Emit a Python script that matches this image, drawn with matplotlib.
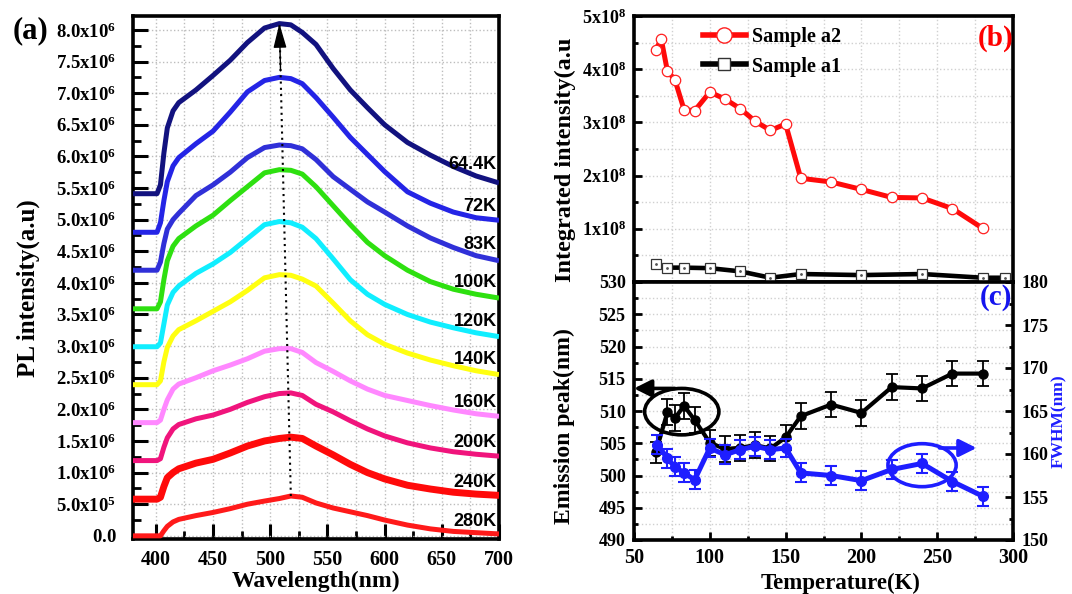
import numpy as np
import matplotlib
matplotlib.use('Agg')
import matplotlib.pyplot as plt
from matplotlib.patches import Ellipse
from matplotlib.lines import Line2D
from matplotlib.ticker import MultipleLocator, FixedLocator, FixedFormatter

plt.rcParams['font.family'] = 'Liberation Serif'
plt.rcParams['font.weight'] = 'bold'
plt.rcParams['mathtext.fontset'] = 'custom'
plt.rcParams['mathtext.rm'] = 'Liberation Serif:bold'
plt.rcParams['mathtext.bf'] = 'Liberation Serif:bold'
plt.rcParams['mathtext.it'] = 'Liberation Serif:bold:italic'
plt.rcParams['xtick.direction'] = 'in'
plt.rcParams['ytick.direction'] = 'in'

# ---- (a) PL spectra, intensity in units of 1e6 ----
wavelength = [380, 401, 404, 407, 410, 415, 420, 435, 450, 465, 480, 495, 508, 518, 528,
              540, 555, 570, 585, 600, 620, 640, 660, 680, 700]
spec_temps = ['64.4K', '72K', '83K', '100K', '120K', '140K', '160K', '200K', '240K', '280K']
pl_64K = [5.41, 5.41, 5.55, 6.05, 6.45, 6.72, 6.85, 7.05, 7.28, 7.52, 7.80, 8.03, 8.10, 8.08, 7.96,
          7.77, 7.39, 7.05, 6.77, 6.50, 6.22, 6.02, 5.84, 5.69, 5.58]
pl_72K = [4.80, 4.80, 4.95, 5.30, 5.60, 5.85, 5.98, 6.20, 6.40, 6.70, 7.02, 7.20, 7.25, 7.23, 7.15,
          6.93, 6.62, 6.30, 6.03, 5.76, 5.44, 5.26, 5.12, 5.03, 4.99]
pl_83K = [4.20, 4.20, 4.33, 4.62, 4.85, 5.00, 5.10, 5.38, 5.55, 5.75, 5.98, 6.14, 6.18, 6.17, 6.12,
          5.95, 5.68, 5.48, 5.28, 5.12, 4.90, 4.71, 4.56, 4.43, 4.35]
pl_100K = [3.59, 3.59, 3.70, 4.05, 4.35, 4.58, 4.70, 4.90, 5.07, 5.30, 5.52, 5.74, 5.79, 5.78, 5.72,
           5.52, 5.22, 4.92, 4.64, 4.43, 4.20, 4.02, 3.90, 3.82, 3.76]
pl_120K = [2.99, 2.99, 3.05, 3.35, 3.65, 3.85, 3.95, 4.15, 4.30, 4.48, 4.70, 4.92, 4.97, 4.95, 4.88,
           4.70, 4.38, 4.05, 3.82, 3.66, 3.50, 3.38, 3.29, 3.21, 3.15]
pl_140K = [2.39, 2.39, 2.45, 2.75, 2.98, 3.16, 3.26, 3.40, 3.55, 3.70, 3.88, 4.08, 4.13, 4.12, 4.06,
           3.95, 3.68, 3.40, 3.18, 3.03, 2.89, 2.78, 2.69, 2.61, 2.55]
pl_160K = [1.79, 1.79, 1.83, 2.00, 2.15, 2.32, 2.40, 2.50, 2.61, 2.70, 2.80, 2.92, 2.96, 2.96, 2.90,
           2.74, 2.60, 2.45, 2.32, 2.22, 2.14, 2.06, 1.99, 1.93, 1.89]
pl_200K = [1.19, 1.19, 1.22, 1.40, 1.55, 1.69, 1.76, 1.85, 1.91, 2.00, 2.11, 2.20, 2.25, 2.26, 2.22,
           2.08, 1.96, 1.82, 1.69, 1.58, 1.47, 1.39, 1.33, 1.29, 1.26]
pl_240K = [0.58, 0.58, 0.61, 0.78, 0.92, 1.00, 1.06, 1.15, 1.21, 1.31, 1.42, 1.50, 1.54, 1.56, 1.54,
           1.42, 1.28, 1.13, 1.00, 0.90, 0.80, 0.74, 0.69, 0.66, 0.64]
pl_280K = [0.00, 0.00, 0.00, 0.08, 0.15, 0.22, 0.26, 0.32, 0.37, 0.43, 0.50, 0.55, 0.59, 0.63, 0.61,
           0.52, 0.44, 0.38, 0.32, 0.25, 0.17, 0.11, 0.07, 0.05, 0.03]
spectra = [pl_64K, pl_72K, pl_83K, pl_100K, pl_120K, pl_140K, pl_160K, pl_200K, pl_240K, pl_280K]
spec_colors = ['#12127f', '#2424e6', '#3030d8', '#2ee010', '#10eeff', '#ffff10',
               '#ff88ff', '#f0147c', '#ff0a0a', '#ff1a1a']
spec_lw = [3.6, 3.6, 3.6, 3.6, 3.6, 3.6, 3.6, 3.6, 5.0, 3.6]

# ---- (b) integrated intensity, units of 1e8 ----
temp_a2 = [64.4, 68, 72, 77, 83, 90, 100, 110, 120, 130, 140, 150, 160, 180, 200, 220, 240, 260, 280]
int_a2 = [4.37, 4.56, 3.97, 3.80, 3.24, 3.22, 3.57, 3.44, 3.26, 3.02, 2.85, 2.97, 1.95, 1.88,
          1.74, 1.59, 1.58, 1.38, 1.01]
temp_a1 = [64.4, 72, 83, 100, 120, 140, 160, 200, 240, 280, 295]
int_a1 = [0.33, 0.27, 0.27, 0.26, 0.20, 0.08, 0.15, 0.13, 0.15, 0.08, 0.08]

# ---- (c) emission peak and FWHM ----
temp_peak = [64.4, 72, 77, 83, 90, 100, 110, 120, 130, 140, 150, 160, 180, 200, 220, 240, 260, 280]
peak_nm = [503.6, 509.8, 508.9, 510.8, 508.6, 505.1, 504.1, 504.3, 504.7, 504.2, 505.9, 509.2,
           511.0, 509.7, 513.7, 513.5, 515.8, 515.8]
peak_err = [1.6, 2.0, 2.0, 2.0, 2.0, 2.0, 2.0, 2.0, 2.0, 2.0, 2.0, 2.0, 2.0, 2.0, 2.0, 2.0, 2.0, 2.0]
temp_fwhm = [65.5, 72, 77, 83, 90, 100, 110, 120, 130, 140, 150, 160, 180, 200, 220, 240, 260, 280]
fwhm_nm = [161.1, 159.5, 158.5, 157.8, 157.0, 160.7, 159.9, 160.5, 160.9, 160.5, 160.7, 157.8,
           157.5, 156.9, 158.2, 158.9, 156.8, 155.1]
fwhm_err = [1.1] * 18

W, H = 1072, 594
fig = plt.figure(figsize=(W / 100, H / 100), dpi=100)

# ================= panel (a) =================
ax = fig.add_axes([133 / W, 55 / H, 366 / W, 523 / H])
for vals, col, lw in zip(spectra, spec_colors, spec_lw):
    ax.plot(wavelength, np.array(vals) * 1e6, color=col, lw=lw, solid_joinstyle='round',
            solid_capstyle='butt', zorder=3)

# dotted peak-shift guide from the 280K peak up to the 64.4K peak
top = spectra[0]
bot = spectra[-1]
x_top, y_top = wavelength[int(np.argmax(top))], max(top) * 1e6
x_bot, y_bot = wavelength[int(np.argmax(bot))], max(bot) * 1e6
ax.plot([x_bot, x_top], [y_bot, y_top], color='k', lw=1.5, ls=(0, (1, 2)), zorder=5)
ax.annotate('', xy=(x_top, y_top), xytext=(x_top + 0.1 * (x_bot - x_top), y_top + 0.1 * (y_bot - y_top)),
            arrowprops=dict(arrowstyle='-|>,head_length=1.0,head_width=0.27', lw=1,
                            fc='k', ec='k', shrinkA=0, shrinkB=0, mutation_scale=15), zorder=5)

# temperature labels near right end
for vals, lab in zip(spectra, spec_temps):
    ax.text(698, (vals[-2] + 0.18) * 1e6, lab, ha='right', va='center', fontsize=13,
            family='Liberation Sans', weight='bold', zorder=6)

ax.set_xlim(380, 700)
ax.set_ylim(-0.05e6, 8.22e6)
ax.xaxis.set_major_locator(MultipleLocator(50))
ax.xaxis.set_minor_locator(MultipleLocator(25))
yt = np.arange(0, 8.01e6, 0.5e6)
ylabels = []
for v in yt:
    if v == 0:
        ylabels.append(r'$\mathrm{0.0}$')
    elif v < 1e6:
        ylabels.append(r'$\mathrm{%.1fx10^{5}}$' % (v / 1e5))
    else:
        ylabels.append(r'$\mathrm{%.1fx10^{6}}$' % (v / 1e6))
ax.yaxis.set_major_locator(FixedLocator(yt))
ax.yaxis.set_major_formatter(FixedFormatter(ylabels))
ax.yaxis.set_minor_locator(MultipleLocator(0.25e6))
ax.tick_params(which='major', length=11, width=2.2, top=False, right=False)
ax.tick_params(which='minor', length=5.5, width=2.0, top=False, right=False)
ax.tick_params(axis='y', labelsize=13.5, pad=12)
ax.tick_params(axis='x', labelsize=14.5, pad=8)
ax.grid(True, which='both', axis='x', color='#bdbdbd', ls=':', lw=1)
ax.grid(True, which='major', axis='y', color='#bdbdbd', ls=':', lw=1)
for s in ax.spines.values():
    s.set_linewidth(2.6)
ax.set_xlabel('Wavelength(nm)', fontsize=17, weight='bold')
ax.set_ylabel('PL intensity(a.u)', fontsize=18, weight='bold')
ax.xaxis.set_label_coords(0.5, -0.06)
ax.yaxis.set_label_coords(-0.255, 0.48)
fig.text(30 / W, 1 - 31 / H, '(a)', ha='center', va='center', fontsize=22, weight='bold')

# ================= panel (b) =================
axb = fig.add_axes([634 / W, 312 / H, 379 / W, 266 / H])
axb.plot(temp_a2, np.array(int_a2) * 1e8, color='#ff0a0a', lw=3.6, marker='o', ms=7.5,
         mfc='white', mec='#ff2020', mew=0.9, zorder=3)
axb.plot(temp_a1, np.array(int_a1) * 1e8, color='k', lw=3.3, marker='s', ms=6.5,
         mfc='white', mec='#333333', mew=0.9, zorder=3, clip_on=False)
axb.plot(temp_a1, np.array(int_a1) * 1e8, ls='none', marker='o', ms=1, color='#555555', zorder=4)
axb.set_xlim(50, 300)
axb.set_ylim(0, 5.0e8)
axb.xaxis.set_major_locator(MultipleLocator(50))
axb.xaxis.set_minor_locator(MultipleLocator(25))
ybt = [1e8, 2e8, 3e8, 4e8, 5e8]
axb.yaxis.set_major_locator(FixedLocator(ybt))
axb.yaxis.set_major_formatter(FixedFormatter([r'$\mathrm{%dx10^{8}}$' % (v / 1e8) for v in ybt]))
axb.yaxis.set_minor_locator(MultipleLocator(0.5e8))
axb.tick_params(which='major', length=6, width=2, top=False, right=False, bottom=False,
                labelbottom=False, labelsize=13, pad=6)
axb.tick_params(which='minor', length=3, width=2, top=False, right=False, bottom=False)
axb.grid(True, which='both', color='#d0d0d0', ls=':', lw=1)
for s in axb.spines.values():
    s.set_linewidth(2.6)
axb.set_ylabel('Integrated intensity(a.u', fontsize=17.5, weight='bold')
axb.yaxis.set_label_coords(-0.152, 0.46)
handles = [Line2D([], [], color='#ff0a0a', lw=4, marker='o', ms=11, mfc='white', mec='#ff2020', mew=1),
           Line2D([], [], color='k', lw=4, marker='s', ms=9, mfc='white', mec='#333333', mew=1)]
axb.legend(handles, ['Sample a2', 'Sample a1'], loc='upper left', bbox_to_anchor=(0.135, 1.025),
           frameon=False, fontsize=14.5, handlelength=2.1, labelspacing=0.45, handletextpad=0.3)
axb.text(0.955, 0.915, '(b)', transform=axb.transAxes, ha='center', va='center', color='#ff0000',
         fontsize=21, weight='bold')

# ================= panel (c) =================
axc = fig.add_axes([634 / W, 54 / H, 379 / W, 258 / H])
axc.errorbar(temp_peak, peak_nm, yerr=peak_err, color='k', lw=3.0, marker='o', ms=6.5,
             capsize=4, elinewidth=1.3, capthick=1.3, zorder=3)
axc.add_patch(Ellipse((81.5, 509.9), 49, 7.2, fill=False, ec='k', lw=2.6, zorder=4))
axc.annotate('', xy=(50, 513.5), xytext=(77, 513.5),
             arrowprops=dict(arrowstyle='-|>,head_length=0.7,head_width=0.35', lw=2.6, color='k',
                             shrinkA=0, shrinkB=0, mutation_scale=15), annotation_clip=False)
axc.set_xlim(50, 300)
axc.set_ylim(490, 530)
axc.xaxis.set_major_locator(MultipleLocator(50))
axc.xaxis.set_minor_locator(MultipleLocator(25))
axc.yaxis.set_major_locator(MultipleLocator(5))
axc.yaxis.set_minor_locator(MultipleLocator(2.5))
axc.tick_params(which='major', length=6, width=2, top=False, right=False)
axc.tick_params(which='minor', length=3, width=2, top=False, right=False)
axc.tick_params(axis='y', labelsize=13, pad=6)
axc.tick_params(axis='x', labelsize=14.5, pad=6)
axc.grid(True, which='both', color='#d0d0d0', ls=':', lw=1)
for s in axc.spines.values():
    s.set_linewidth(2.6)
axc.set_xlabel('Temperature(K)', fontsize=16.5, weight='bold')
axc.set_ylabel('Emission peak(nm)', fontsize=17, weight='bold')
axc.xaxis.set_label_coords(0.544, -0.128)
axc.yaxis.set_label_coords(-0.155, 0.44)

axc2 = axc.twinx()
axc2.errorbar(temp_fwhm, fwhm_nm, yerr=fwhm_err, color='#1e1eff', lw=3.6, marker='o', ms=7,
              capsize=4, elinewidth=1.5, capthick=1.5, zorder=3)
axc2.add_patch(Ellipse((240, 158.7), 45, 5.0, fill=False, ec='#1e1eff', lw=2.6, zorder=4))
axc2.annotate('', xy=(276, 160.7), xytext=(251.5, 160.7),
              arrowprops=dict(arrowstyle='-|>,head_length=0.7,head_width=0.35', lw=2.6,
                              color='#1e1eff', shrinkA=0, shrinkB=0, mutation_scale=15))
axc2.set_ylim(150, 180)
axc2.yaxis.set_major_locator(MultipleLocator(5))
axc2.yaxis.set_minor_locator(MultipleLocator(2.5))
axc2.tick_params(which='major', length=6, width=2, labelsize=13, pad=6)
axc2.tick_params(which='minor', length=3, width=2)
axc2.set_ylabel('FWHM(nm)', fontsize=12.5, weight='bold', color='#1e1eff')
axc2.yaxis.set_label_coords(1.10, 0.46)
axc2.text(0.955, 0.94, '(c)', transform=axc2.transAxes, ha='center', va='center', color='#1414ee',
          fontsize=21, weight='bold')

fig.savefig('out.png', dpi=100)
